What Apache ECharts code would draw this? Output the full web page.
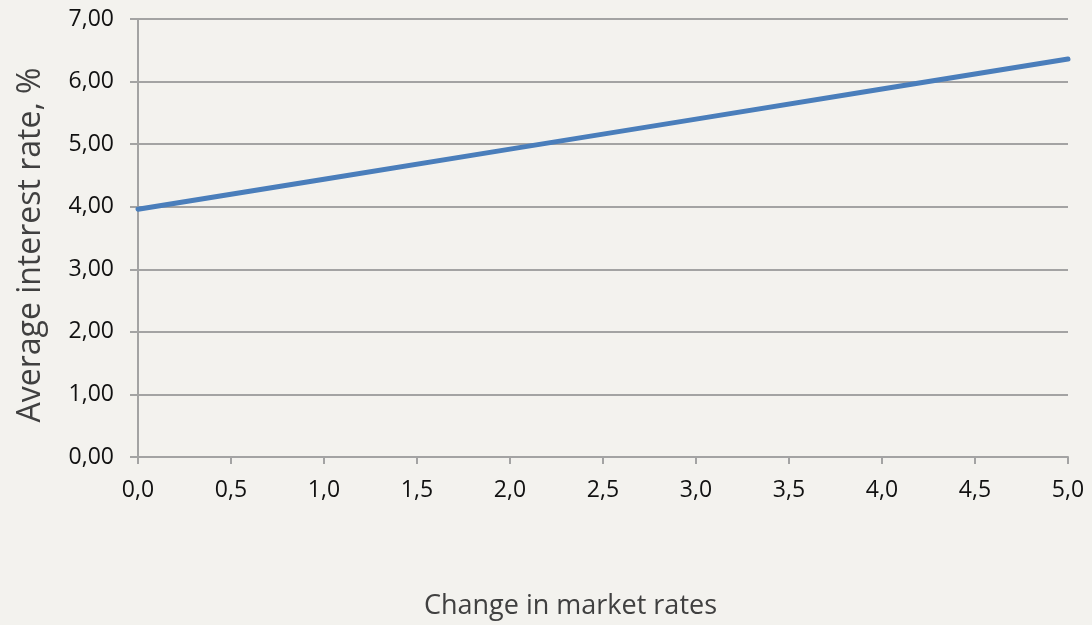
<!DOCTYPE html>
<html>
<head>
<meta charset="utf-8">
<script src="https://cdn.jsdelivr.net/npm/echarts@6/dist/echarts.min.js"></script>
<style>
  html, body { margin: 0; padding: 0; background: #f3f2ee; }
  #chart { width: 1092px; height: 625px; }
</style>
</head>
<body>
<div id="chart"></div>
<script>
  // change in market rates (x) and average interest rate (y)
  var marketChange = [0, 1, 2, 3, 4, 5];
  var avgRate = [3.96, 4.44, 4.92, 5.40, 5.88, 6.36];

  var xName = 'Change in market rates';
  var yName = 'Average interest rate, %';

  var lineColor = '#a3a3a3';
  var chart = echarts.init(document.getElementById('chart'));

  var points = marketChange.map(function (x, i) { return [x, avgRate[i]]; });

  var option = {
    backgroundColor: '#f3f2ee',
    animation: false,
    textStyle: { fontFamily: 'Open Sans' },
    grid: { left: 138, right: 24, top: 19, bottom: 166, containLabel: false },
    xAxis: {
      type: 'value',
      min: 0, max: 5, interval: 0.5,
      name: xName,
      nameLocation: 'middle',
      nameGap: 136,
      nameTextStyle: { fontSize: 27, color: '#404040', padding: [0, 65, 0, 0] },
      axisLine: { show: true, lineStyle: { color: lineColor, width: 2 } },
      axisTick: { show: true, length: 7, lineStyle: { color: lineColor, width: 2 } },
      axisLabel: {
        color: '#111', fontSize: 23, margin: 22,
        formatter: function (v) { return v.toFixed(1).replace('.', ','); }
      },
      splitLine: { show: false }
    },
    yAxis: {
      type: 'value',
      min: 0, max: 7, interval: 1,
      name: yName,
      nameLocation: 'middle',
      nameGap: 91,
      nameTextStyle: { fontSize: 32, color: '#404040', padding: [0, 14, 0, 0] },
      axisLine: { show: true, lineStyle: { color: lineColor, width: 2 } },
      axisTick: { show: true, length: 8, lineStyle: { color: lineColor, width: 2 } },
      axisLabel: {
        color: '#111', fontSize: 23, margin: 24,
        formatter: function (v) { return v.toFixed(2).replace('.', ','); }
      },
      splitLine: { show: true, lineStyle: { color: lineColor, width: 2 } }
    },
    series: [{
      type: 'line',
      data: points,
      showSymbol: false,
      lineStyle: { color: '#4a7ebb', width: 5, cap: 'round' }
    }]
  };

  chart.setOption(option);
</script>
</body>
</html>
